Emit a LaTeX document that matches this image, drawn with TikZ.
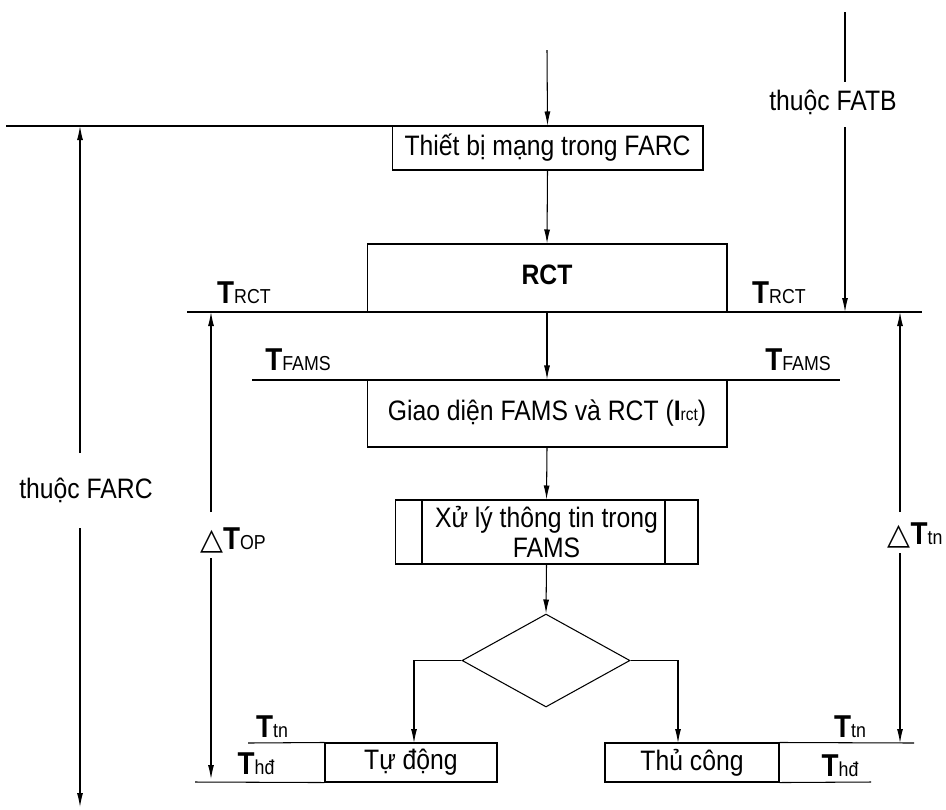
\documentclass[tikz,border=0pt]{standalone}
\usepackage{fontspec}
\setmainfont[FakeStretch=0.88]{Liberation Sans}
\newfontfamily\djv{DejaVu Sans}
\usetikzlibrary{shapes.geometric,arrows.meta}
\newcommand\Tlab[1]{{\fontsize{18}{18}\selectfont\bfseries T}{\fontsize{11.5}{11.5}\selectfont #1}}
\newcommand\Dlab[1]{{\djv\fontsize{17}{17}\selectfont △}\Tlab{#1}}
\begin{document}
\begin{tikzpicture}[x=0.02cm,y=-0.02cm,
  every node/.style={font=\fontsize{16}{17}\selectfont},
  ln/.style={line width=0.6pt},
  arr/.style={line width=0.6pt,-{Latex[length=0.28cm,width=0.12cm]}},
  box/.style={draw,line width=0.6pt,inner sep=0pt,minimum height=0.88cm,fill=white},
  lbl/.style={inner sep=0pt}]
\useasboundingbox[fill=white] (0,0) rectangle (946,809);

% horizontal level lines
\draw[ln] (6,126) -- (703,126);
\draw[ln] (187,312) -- (922,312);
\draw[ln] (252,380) -- (840,380);

% boxes
\node[box,minimum width=6.22cm,minimum height=0.88cm] (b1) at (547.5,148) {Thiết bị mạng trong FARC};
\node[box,minimum width=7.2cm,minimum height=1.36cm,fill=none] (rct) at (547,278) {\raisebox{4pt}{\bfseries RCT}};
\node[box,minimum width=7.2cm,minimum height=1.34cm,fill=none] (giao) at (547,413.5)
  {Giao diện FAMS và RCT ({\bfseries I}{\fontsize{10}{10}\selectfont rct})};
\node[box,minimum width=6.06cm,minimum height=1.28cm,align=center] (xuly) at (546.5,532)
  {Xử lý thông tin trong\\FAMS};
\draw[ln] (422,500) -- (422,564);
\draw[ln] (665,500) -- (665,564);
\node[draw,ln,shape=diamond,inner sep=0pt,minimum width=3.36cm,minimum height=1.86cm] (dia) at (546,660.5) {};
\node[box,minimum width=3.44cm,minimum height=0.78cm] (td) at (411,762.5) {Tự động};
\node[box,minimum width=3.48cm,minimum height=0.78cm] (tc) at (692,762.5) {Thủ công};

% bottom extension lines
\draw[ln] (248,743) -- (td.north west);
\draw[ln] (195,782) -- (td.south west);
\draw[ln] (tc.north east) -- (914,743);
\draw[ln] (tc.south east) -- (871,782);

% main flow
\coordinate (in) at (547,50);
\draw[arr] (in) -- (b1.north);
\draw[arr] (b1.south) -- (rct.north);
\draw[arr] (rct.south) -- (giao.north);
\draw[arr] (giao.south) -- (xuly.north);
\draw[arr] (xuly.south) -- (dia.north);
\coordinate (tdin) at (414,743);
\coordinate (tcin) at (678,743);
\draw[arr] (dia.west) -| (tdin);
\draw[arr] (dia.east) -| (tcin);

% FATB
\node[lbl] (fatb) at (833,102) {thuộc FATB};
\coordinate (f1) at (845,12);
\coordinate (f2) at (845,82);
\coordinate (f3) at (845,127);
\coordinate (f4) at (845,312);
\draw[ln] (f1) -- (f2);
\draw[arr] (f3) -- (f4);

% FARC
\node[lbl] (farc) at (86,490) {thuộc FARC};
\coordinate (a1) at (80,453);
\coordinate (a2) at (80,126);
\coordinate (a3) at (80,528);
\coordinate (a4) at (80,807);
\draw[arr] (a1) -- (a2);
\draw[arr] (a3) -- (a4);

% Delta T_OP
\node[lbl] (dtop) at (233,540) {\Dlab{OP}};
\coordinate (o1) at (211,512);
\coordinate (o2) at (211,312);
\coordinate (o3) at (211,558);
\coordinate (o4) at (211,779);
\draw[arr] (o1) -- (o2);
\draw[arr] (o3) -- (o4);

% Delta T_tn
\node[lbl] (dttn) at (915,535) {\Dlab{tn}};
\coordinate (n1) at (900,512);
\coordinate (n2) at (900,312);
\coordinate (n3) at (900,553);
\coordinate (n4) at (900,743);
\draw[arr] (n1) -- (n2);
\draw[arr] (n3) -- (n4);

% T labels
\node[lbl] (trl) at (244,293) {\Tlab{RCT}};
\node[lbl] (trr) at (779,293) {\Tlab{RCT}};
\node[lbl] (tfl) at (298,360) {\Tlab{FAMS}};
\node[lbl] (tfr) at (798,360) {\Tlab{FAMS}};
\node[lbl] (ttl) at (272,727) {\Tlab{tn}};
\node[lbl] (ttr) at (850,727) {\Tlab{tn}};
\node[lbl] (thl) at (256,764) {\Tlab{hđ}};
\node[lbl] (thr) at (840,766) {\Tlab{hđ}};
\end{tikzpicture}
\end{document}
